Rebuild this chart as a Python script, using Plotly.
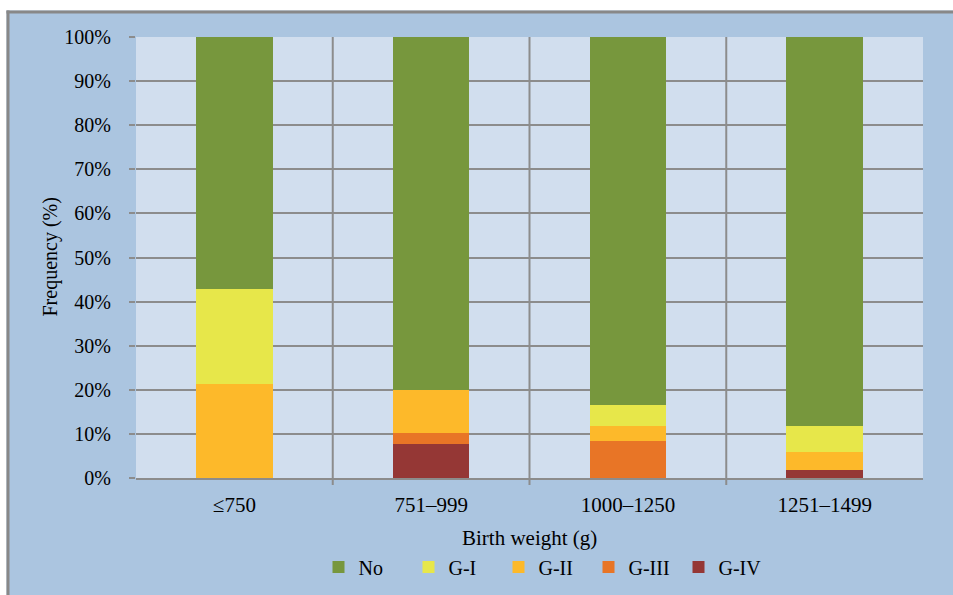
import plotly.graph_objects as go

# Birth-weight groups and the share (%) of infants in each grade
categories = ["≤750", "751–999", "1000–1250", "1251–1499"]
series_names = ["No", "G-I", "G-II", "G-III", "G-IV"]
no_rop = [57.2, 80.1, 83.4, 88.1]
grade_1 = [21.4, 0.0, 4.7, 6.1]
grade_2 = [21.4, 9.8, 3.6, 3.9]
grade_3 = [0.0, 2.5, 8.3, 0.0]
grade_4 = [0.0, 7.6, 0.0, 1.9]
y_ticks = list(range(0, 101, 10))
y_tick_labels = [f"{v}%" for v in y_ticks]

colors = {
    "No": "#77973D",
    "G-I": "#E7E74A",
    "G-II": "#FDB92A",
    "G-III": "#E87526",
    "G-IV": "#953735",
}

# stacking order from the bottom up
stack = [
    ("G-IV", grade_4),
    ("G-III", grade_3),
    ("G-II", grade_2),
    ("G-I", grade_1),
    ("No", no_rop),
]

FONT = "Liberation Serif"
GRID = "#8C8C8C"
PAPER = "#ABC5E0"

fig = go.Figure()
for name, vals in stack:
    fig.add_trace(go.Bar(
        x=categories, y=vals, name=name,
        marker=dict(color=colors[name], line=dict(width=0)),
        legendrank=series_names.index(name),
    ))

W, H = 953, 595
L, R, T, B = 136, 30, 37, 117
pw, ph = W - L - R, H - T - B


def px_x(p):
    return (p - L) / pw


def px_y(p):
    return (H - B - p) / ph


shapes = [
    # white strip above and to the left of the chart frame
    dict(type="rect", xref="paper", yref="paper", x0=px_x(-5), x1=px_x(W + 5),
         y0=px_y(10.5), y1=px_y(-5), fillcolor="white", line=dict(width=0), layer="above"),
    dict(type="rect", xref="paper", yref="paper", x0=px_x(-5), x1=px_x(6.5),
         y0=px_y(H + 5), y1=px_y(-5), fillcolor="white", line=dict(width=0), layer="above"),
    # grey frame edges
    dict(type="line", xref="paper", yref="paper", x0=px_x(6.5), x1=px_x(W + 5),
         y0=px_y(12), y1=px_y(12), line=dict(color="#888888", width=3), layer="above"),
    dict(type="line", xref="paper", yref="paper", x0=px_x(8), x1=px_x(8),
         y0=px_y(10.5), y1=px_y(H + 5), line=dict(color="#888888", width=3), layer="above"),
]

# separators between neighbouring categories, running a little below the axis
for i in range(len(categories) - 1):
    shapes.append(dict(
        type="line", xref="x", yref="paper", x0=i + 0.5, x1=i + 0.5,
        y0=px_y(H - B + 7), y1=1, line=dict(color=GRID, width=2), layer="above",
    ))

annotations = [
    dict(text="Frequency (%)", xref="paper", yref="paper", x=px_x(50), y=0.5,
         textangle=-90, showarrow=False, xanchor="center", yanchor="middle",
         font=dict(family=FONT, size=20, color="black")),
    dict(text="Birth weight (g)", xref="paper", yref="paper", x=0.5, y=px_y(538),
         showarrow=False, xanchor="center", yanchor="middle",
         font=dict(family=FONT, size=21, color="black")),
]

fig.update_layout(
    barmode="stack",
    bargap=0.61,
    width=W, height=H,
    margin=dict(l=L, r=R, t=T, b=B, pad=0, autoexpand=False),
    paper_bgcolor=PAPER,
    plot_bgcolor="#D1DEEE",
    font=dict(family=FONT, size=20, color="black"),
    shapes=shapes,
    annotations=annotations,
    legend=dict(
        orientation="h", x=0.5 + 14 / pw, xanchor="center", y=px_y(567), yanchor="middle",
        bgcolor="rgba(0,0,0,0)", font=dict(family=FONT, size=20),
        itemwidth=30, traceorder="normal", entrywidth=45, entrywidthmode="pixels",
    ),
    xaxis=dict(
        type="category", showgrid=False, ticks="",
        showline=True, linecolor=GRID, linewidth=2,
        tickfont=dict(size=21), ticklabelstandoff=7, automargin=False,
    ),
    yaxis=dict(
        range=[0, 100], tickvals=y_ticks, ticktext=y_tick_labels,
        showgrid=True, gridcolor=GRID, gridwidth=2, zeroline=False,
        ticks="outside", ticklen=6, tickcolor=GRID, tickwidth=2,
        showline=False, ticklabelstandoff=14, automargin=False,
    ),
)

fig.write_html("out.html")
